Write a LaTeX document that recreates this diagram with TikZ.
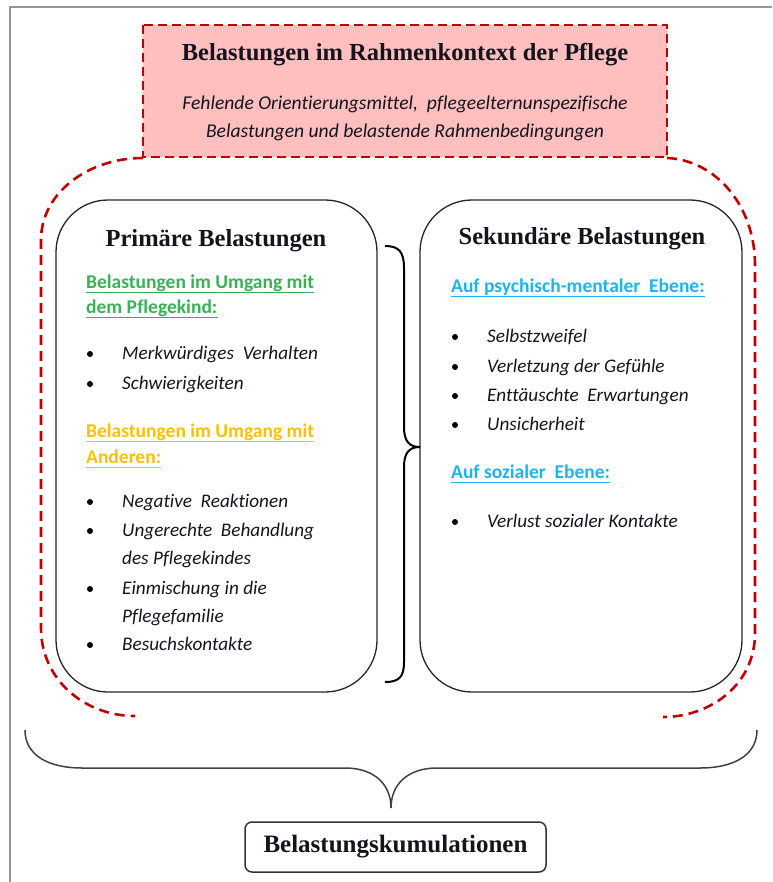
\documentclass[tikz,border=0pt]{standalone}
\usepackage{fontspec}
\setmainfont{Liberation Serif}
\newfontfamily\calib[Ligatures=NoCommon]{Carlito}

\definecolor{framegray}{RGB}{150,150,150}
\definecolor{pinkfill}{RGB}{255,191,191}
\definecolor{dashred}{RGB}{192,0,0}
\definecolor{subgreen}{RGB}{56,178,86}
\definecolor{suborange}{RGB}{255,192,0}
\definecolor{subblue}{RGB}{30,180,240}
\definecolor{ink}{RGB}{20,20,30}

\tikzset{
  pageframe/.style={draw=framegray, line width=2.5pt},
  contextbox/.style={fill=pinkfill, draw=dashred, line width=2.6pt, dash pattern=on 9pt off 5pt},
  outerline/.style={draw=dashred, line width=2.6pt, dash pattern=on 10pt off 6pt},
  panel/.style={draw=black!85, line width=1.3pt, rounded corners=52pt},
  bracket/.style={draw=black, line width=2pt},
  bigbracket/.style={draw=black!75, line width=1.5pt},
  title/.style={font=\fontsize{24.5}{28}\selectfont\bfseries, text=ink, inner sep=0pt, anchor=base},
  intro/.style={font=\calib\itshape\fontsize{19.6}{22}\selectfont, text=ink, inner sep=0pt, anchor=base},
  subhead/.style={font=\calib\bfseries\fontsize{19.5}{22}\selectfont, inner sep=0pt, anchor=base west},
  entry/.style={font=\calib\itshape\fontsize{19.2}{22}\selectfont, text=ink, inner sep=0pt, anchor=base west},
  dot/.style={fill=black},
  sumbox/.style={draw=black!80, line width=1.5pt, rounded corners=7pt, minimum width=301pt,
    minimum height=50pt, inner sep=0pt, font=\fontsize{25}{28}\selectfont\bfseries, text=ink},
}

% underline a single-line node
\newcommand{\ulnode}[2]{\draw[#1, line width=1.6pt] ([yshift=-4.5pt]#2.base west) -- ([yshift=-4.5pt]#2.base east);}

\begin{document}
\begin{tikzpicture}[x=1pt, y=-1pt]
\useasboundingbox (0,0) rectangle (772,882);

% page frame (left and top edges)
\draw[pageframe] (10,882) -- (10,7) -- (772,7);

% dashed enclosure round both panels
\draw[outerline] (143,158) .. controls (88,158) and (41,193) .. (41,240)
  -- (41,628) .. controls (41,680) and (85,716) .. (135,716);
\draw[outerline] (667,158) .. controls (715,160) and (755,205) .. (755,265)
  -- (755,633) .. controls (755,685) and (710,717) .. (663,717);

% context box
\draw[contextbox] (143,25) rectangle (667,157);
\node[title] (ctxtitle) at (405,61) {Belastungen im Rahmenkontext der Pflege};
\node[intro] (ctxa) at (405,110) {Fehlende Orientierungsmittel,\ \ pflegeelternunspezifische};
\node[intro] (ctxb) at (405,138) {Belastungen und belastende Rahmenbedingungen};

% panels
\draw[panel] (56,200) rectangle (377,692);
\draw[panel] (420,200) rectangle (742,692);

% primary strains
\node[title] (primtitle) at (216,247) {Primäre Belastungen};
\node[subhead, text=subgreen] (g1) at (86,288) {Belastungen im Umgang mit};
\node[subhead, text=subgreen] (g2) at (86,313) {dem Pflegekind:};
\ulnode{subgreen}{g1}
\ulnode{subgreen}{g2}
\node[entry] (p1) at (122,359) {Merkwürdiges\ \ Verhalten};
\node[entry] (p2) at (122,389) {Schwierigkeiten};
\node[subhead, text=suborange] (o1) at (86,437) {Belastungen im Umgang mit};
\node[subhead, text=suborange] (o2) at (86,463) {Anderen:};
\ulnode{suborange}{o1}
\ulnode{suborange}{o2}
\node[entry] (p3) at (122,507) {Negative\ \ Reaktionen};
\node[entry] (p4) at (122,536) {Ungerechte\ \ Behandlung};
\node[entry] (p4b) at (122,564) {des Pflegekindes};
\node[entry] (p5) at (122,594) {Einmischung in die};
\node[entry] (p5b) at (122,622) {Pflegefamilie};
\node[entry] (p6) at (122,650) {Besuchskontakte};
\foreach \yy in {354,384,502,531,589,645} \fill[dot] (90,\yy) circle (3pt);

% secondary strains
\node[title] (sectitle) at (582,245) {Sekundäre Belastungen};
\node[subhead, text=subblue] (b1) at (451,292) {Auf psychisch-mentaler\ \ Ebene:};
\ulnode{subblue}{b1}
\node[entry] (s1) at (487,342) {Selbstzweifel};
\node[entry] (s2) at (487,372) {Verletzung\ der\ Gefühle};
\node[entry] (s3) at (487,401) {Enttäuschte\ \ Erwartungen};
\node[entry] (s4) at (487,430) {Unsicherheit};
\node[subhead, text=subblue] (b2) at (451,478) {Auf sozialer\ \ Ebene:};
\ulnode{subblue}{b2}
\node[entry] (s5) at (487,527) {Verlust\ sozialer\ Kontakte};
\foreach \yy in {337,367,396,425,522} \fill[dot] (455,\yy) circle (3pt);

% brace between the panels
\coordinate (midtip) at (420,447);
\draw[bracket] (385,246) .. controls (399,246) and (404,252) .. (404,268)
  -- (404,427) .. controls (404,441) and (409,447) .. (midtip)
  .. controls (409,447) and (404,453) .. (404,467)
  -- (404,662) .. controls (404,677) and (399,682) .. (385,682);

% brace gathering everything
\coordinate (lowtip) at (391,808);
\draw[bigbracket] (25,730) .. controls (25,755) and (48,768) .. (82,768)
  -- (345,768) .. controls (375,768) and (391,785) .. (lowtip)
  .. controls (391,785) and (407,768) .. (437,768)
  -- (700,768) .. controls (734,768) and (757,755) .. (757,730);

\node[sumbox] (cum) at (395.5,847) {Belastungskumulationen};
\end{tikzpicture}
\end{document}
